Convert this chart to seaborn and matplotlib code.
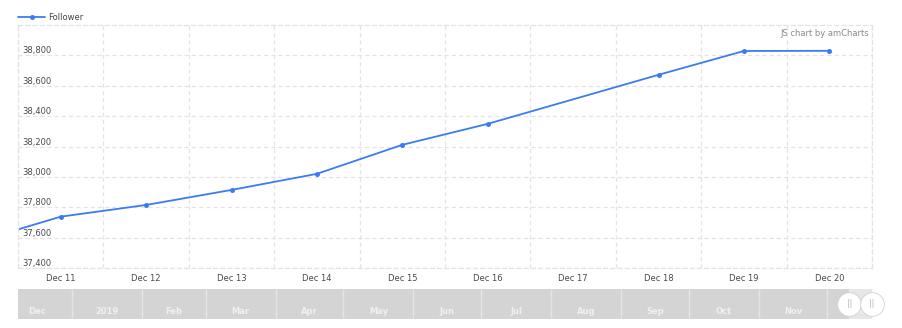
import pandas as pd
import numpy as np
import matplotlib
matplotlib.use("Agg")
import matplotlib.pyplot as plt
import matplotlib.dates as mdates
from matplotlib.ticker import FixedLocator, FuncFormatter
import seaborn as sns

# ---- data ----
dates = ["2019-12-10", "2019-12-11", "2019-12-12", "2019-12-13", "2019-12-14",
         "2019-12-15", "2019-12-16", "2019-12-18", "2019-12-19", "2019-12-20"]
followers = [37570, 37738, 37815, 37914, 38020, 38211, 38349, 38672, 38829, 38830]
series_name = "Follower"
y_ticks = [37400, 37600, 37800, 38000, 38200, 38400, 38600, 38800]
view_start, view_end = "2019-12-11", "2019-12-21"
scroll_start, scroll_end = "2018-12-08", "2019-12-21"
month_starts = ["2018-12-01", "2019-01-01", "2019-02-01", "2019-03-01", "2019-04-01",
                "2019-05-01", "2019-06-01", "2019-07-01", "2019-08-01", "2019-09-01",
                "2019-10-01", "2019-11-01", "2019-12-01", "2020-01-01"]
month_labels = ["Dec", "2019", "Feb", "Mar", "Apr", "May", "Jun", "Jul", "Aug",
                "Sep", "Oct", "Nov", "Dec"]

df = pd.DataFrame({"date": pd.to_datetime(dates) + pd.Timedelta(hours=12),
                   "value": followers})

sns.set_theme(style="white")
plt.rcParams["font.family"] = ["DejaVu Sans"]
plt.rcParams["lines.scale_dashes"] = False

W, H = 903, 328
fig = plt.figure(figsize=(W / 100, H / 100), dpi=100)

def px_axes(x0, y0, x1, y1):
    return fig.add_axes([x0 / W, 1 - y1 / H, (x1 - x0) / W, (y1 - y0) / H])

line_color = "#3b7cf2"
grid_color = "#e3e3e3"
dash = (0, (3, 2.2))

ax = px_axes(18, 25, 872, 268)
sns.lineplot(data=df, x="date", y="value", ax=ax, color=line_color, lw=1.3,
             marker="o", markersize=3.6, markeredgewidth=0, label=series_name,
             legend=False, clip_on=True)

vs, ve = pd.Timestamp(view_start), pd.Timestamp(view_end)
ax.set_xlim(vs, ve)
ax.set_ylim(37400, 39000)

# grid
ax.yaxis.set_major_locator(FixedLocator(y_ticks))
ax.yaxis.set_major_formatter(FuncFormatter(lambda v, p: f"{int(v):,}"))
days = pd.date_range(vs, ve, freq="D")
ax.xaxis.set_major_locator(FixedLocator(mdates.date2num(days)))
ax.xaxis.set_major_formatter(FuncFormatter(lambda v, p: ""))
ax.xaxis.set_minor_locator(FixedLocator(mdates.date2num(days[:-1] + pd.Timedelta(hours=12))))
ax.xaxis.set_minor_formatter(mdates.DateFormatter("%b %d"))
ax.grid(True, which="major", color=grid_color, lw=0.9, linestyle=dash)
for s in ax.spines.values():
    s.set_color(grid_color)
    s.set_linestyle(dash)
    s.set_linewidth(0.9)

ax.tick_params(axis="y", which="major", length=0, pad=-3, labelsize=6, labelcolor="#4a4a4a")
for lbl in ax.get_yticklabels():
    lbl.set_horizontalalignment("left")
    lbl.set_verticalalignment("bottom")
ax.tick_params(axis="x", which="both", length=0, pad=4, labelsize=6, labelcolor="#4a4a4a")
ax.set_xlabel("")
ax.set_ylabel("")

ax.text(0.9965, 0.965, "JS chart by amCharts", transform=ax.transAxes, ha="right",
        va="center", fontsize=6, color="#8a8a8a")

# legend
handles, labels = ax.get_legend_handles_labels()
fig.legend(handles, labels, loc="upper left", bbox_to_anchor=(14 / W, 1 - 9 / H),
           frameon=False, fontsize=6, handlelength=3.2, handletextpad=0.4,
           borderpad=0, labelcolor="#444444")

# ---- scrollbar ----
sb = px_axes(18, 289, 872, 319)
ss, se = pd.Timestamp(scroll_start), pd.Timestamp(scroll_end)
sb.set_xlim(ss, se)
sb.set_ylim(0, 1)
sb.set_facecolor("#d4d4d4")
for s in sb.spines.values():
    s.set_visible(False)
sb.set_xticks([])
sb.set_yticks([])
bounds = list(pd.to_datetime(month_starts))
for m in bounds:
    if ss < m < se:
        sb.axvline(m, color="#e4e4e4", lw=1)
for i, lab in enumerate(month_labels):
    a, b = bounds[i], bounds[i + 1]
    mid = a + (b - a) / 2
    sb.text(mid, 0.24, lab, ha="center", va="center", fontsize=6,
            color="#f0f0f0", fontweight="bold", clip_on=True)
sb.axvspan(vs, ve, color="#e6e6e6", zorder=1)
for gx in [vs, ve]:
    sb.scatter([gx], [0.5], s=290, facecolor="white", edgecolor="#d0d0d0",
               linewidth=0.6, zorder=5, clip_on=False)
    sb.text(gx, 0.5, "||", ha="center", va="center", fontsize=5.5,
            color="#aaaaaa", zorder=6, clip_on=False)

fig.savefig("out.png", dpi=100)
